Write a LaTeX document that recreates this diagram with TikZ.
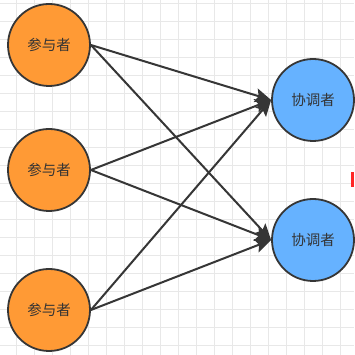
\documentclass[tikz,border=0pt]{standalone}
\usepackage{fontspec}
\newfontfamily\cjk{Noto Sans CJK SC}
\usetikzlibrary{arrows.meta,positioning}

\definecolor{gridgray}{HTML}{E8E8E8}
\definecolor{edgegray}{HTML}{363636}
\definecolor{partorange}{HTML}{FF9A35}
\definecolor{coordblue}{HTML}{66B2FF}
\definecolor{textgray}{HTML}{333333}

\begin{document}
\begin{tikzpicture}[x=1pt,y=1pt,
	role/.style={circle, draw=edgegray, line width=1.8pt, minimum size=82pt,
		inner sep=0pt, text=textgray, font=\cjk\fontsize{14.5}{16}\selectfont},
	participant/.style={role, fill=partorange},
	coordinator/.style={role, fill=coordblue},
	msg/.style={draw=edgegray, line width=2pt,
		-{Stealth[length=16pt,width=14pt,inset=3pt]}}]
	\useasboundingbox[fill=white] (0,0) rectangle (354,355);
	% background grid
	\foreach \x in {16,34,...,340}
		\draw[gridgray, line width=0.9pt] (\x,0) -- (\x,355);
	\foreach \y in {10,28,...,352}
		\draw[gridgray, line width=0.9pt] (0,\y) -- (354,\y);
	
	% participants
	\node[participant] (p1) at (49,310) {参与者};
	\node[participant] (p2) at (49,185) {参与者};
	\node[participant] (p3) at (49,45) {参与者};
	
	% coordinators
	\node[coordinator] (c1) at (313,255) {协调者};
	\node[coordinator] (c2) at (313,115) {协调者};
	
	% every participant talks to both coordinators
	\foreach \p in {p1,p2,p3}
		\foreach \c in {c1,c2}
			\draw[msg] (\p.east) -- (\c.west);
	
	% small red marker at the right edge
	\fill[red!85] (351,168) rectangle (354,183);
\end{tikzpicture}
\end{document}
